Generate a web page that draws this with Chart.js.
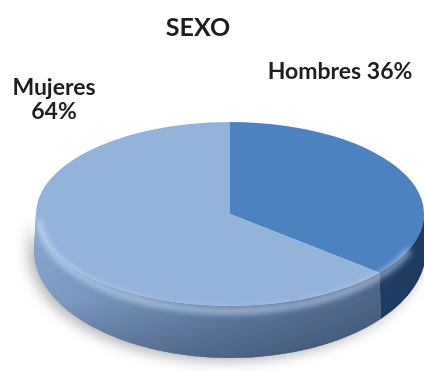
<!DOCTYPE html>
<html>
<head>
<meta charset="utf-8">
<script src="https://cdn.jsdelivr.net/npm/chart.js@4/dist/chart.umd.min.js"></script>
<style>
  html, body { margin: 0; padding: 0; background: #fff; }
  #wrap { width: 424px; height: 371px; }
</style>
</head>
<body>
<div id="wrap"><canvas id="chart" width="424" height="371"></canvas></div>
<script>
// data
const categories = ['Hombres', 'Mujeres'];
const values = [36, 64];
const topColors = ['#4c82bf', '#94b3db'];
const sideColors = [['#2f5a8f', '#1f3b63'], ['#88a8d3', '#4a6284']];

// 3d look (ellipse in screen px)
const E = { cx: 230, cy: 214, rx: 194, ry: 92, depth: 36, ryBottom: 108, rxBottom: 196 };

function sidePath(ctx, lo, hi) {
    ctx.beginPath();
    ctx.ellipse(E.cx, E.cy, E.rx, E.ry, 0, lo, hi, false);
    ctx.ellipse(E.cx, E.cy + E.depth, E.rxBottom, E.ryBottom, 0, hi, lo, true);
    ctx.closePath();
}

const pie3d = {
    id: 'pie3d',
    beforeDatasetsDraw(chart) {
        const ctx = chart.ctx;
        const arcs = chart.getDatasetMeta(0).data;
        // soft shadow under the pie
        ctx.save();
        ctx.shadowColor = 'rgba(0,0,0,0.3)';
        ctx.shadowBlur = 14;
        ctx.shadowOffsetX = -5;
        ctx.shadowOffsetY = 3;
        ctx.fillStyle = '#6f87a8';
        sidePath(ctx, 0, Math.PI);
        ctx.fill();
        ctx.restore();
        // sides of each slice (front half only)
        arcs.forEach((a, i) => {
            const lo = Math.max(a.startAngle, 0);
            const hi = Math.min(a.endAngle, Math.PI);
            if (hi <= lo) return;
            const g = ctx.createLinearGradient(E.cx - E.rx, 0, E.cx + E.rx, 0);
            g.addColorStop(0, sideColors[i][0]);
            g.addColorStop(1, sideColors[i][1]);
            ctx.save();
            ctx.fillStyle = g;
            sidePath(ctx, lo, hi);
            ctx.fill();
            // darker towards the bottom of the side
            const v = ctx.createLinearGradient(0, E.cy, 0, E.cy + E.depth + E.ryBottom);
            v.addColorStop(0, 'rgba(20,35,60,0)');
            v.addColorStop(0.6, 'rgba(20,35,60,0.08)');
            v.addColorStop(1, 'rgba(20,35,60,0.35)');
            ctx.fillStyle = v;
            ctx.fill();
            ctx.restore();
        });
        // squash the round pie drawn by chart.js into the top face
        const a0 = arcs[0];
        const R = a0.outerRadius;
        ctx.save();
        ctx.translate(E.cx, E.cy);
        ctx.scale(E.rx / R, E.ry / R);
        ctx.translate(-a0.x, -a0.y);
    },
    afterDatasetsDraw(chart) {
        const ctx = chart.ctx;
        ctx.restore();
        // bevel highlight along the front edge
        ctx.save();
        ctx.filter = 'blur(3px)';
        ctx.strokeStyle = 'rgba(210,228,250,0.75)';
        ctx.lineWidth = 5;
        ctx.beginPath();
        ctx.ellipse(E.cx, E.cy + 4, E.rx - 3, E.ry + 1, 0, 0.35, Math.PI - 0.02, false);
        ctx.stroke();
        ctx.restore();
        // labels
        ctx.save();
        ctx.fillStyle = '#1e1e1e';
        ctx.font = 'bold 23px Lato, "Open Sans", sans-serif';
        ctx.textAlign = 'center';
        ctx.textBaseline = 'middle';
        ctx.fillText(categories[0] + ' ' + values[0] + '%', 340, 72);
        ctx.fillText(categories[1], 54, 88);
        ctx.fillText(values[1] + '%', 54, 112);
        ctx.restore();
    }
};

new Chart(document.getElementById('chart'), {
    type: 'pie',
    data: {
        labels: categories,
        datasets: [{
            data: values,
            backgroundColor: topColors,
            borderWidth: 0,
            clip: false
        }]
    },
    options: {
        responsive: false,
        animation: false,
        layout: { padding: { left: 0, right: 28, top: 0, bottom: 0 } },
        plugins: {
            legend: { display: false },
            tooltip: { enabled: false },
            title: {
                display: true,
                text: 'SEXO',
                color: '#1e1e1e',
                font: { family: 'Lato, "Open Sans", sans-serif', size: 25, weight: 'bold' },
                padding: { top: 13, bottom: 10 }
            }
        }
    },
    plugins: [pie3d]
});
</script>
</body>
</html>
